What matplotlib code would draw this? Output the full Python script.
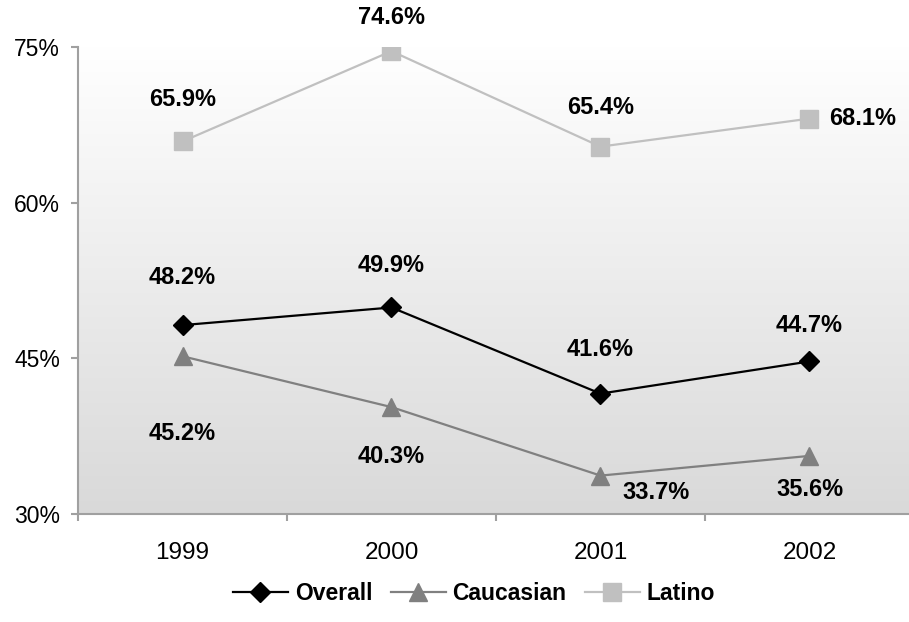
import matplotlib
matplotlib.use("Agg")
import matplotlib.pyplot as plt
import numpy as np
from matplotlib.colors import LinearSegmentedColormap

# ==============================
# Data
# ==============================
years = ["1999", "2000", "2001", "2002"]
overall = [48.2, 49.9, 41.6, 44.7]
caucasian = [45.2, 40.3, 33.7, 35.6]
latino = [65.9, 74.6, 65.4, 68.1]
y_ticks = [30, 45, 60, 75]

# label offsets in pixels (dx, dy)
overall_off = [(0, 48), (0, 42), (0, 44), (0, 36)]
caucasian_off = [(0, -77), (0, -49), (56, -17), (0, -34)]
latino_off = [(0, 42), (0, 34), (0, 39), (20, 0)]

plt.rcParams["font.family"] = ["Liberation Sans", "DejaVu Sans"]

fig = plt.figure(figsize=(9.09, 6.22), dpi=100)
ax = fig.add_axes([78 / 909, 1 - 514 / 622, 836 / 909, 467 / 622])

x = np.arange(len(years)) + 0.5

# gradient background (white on top, gray at the bottom)
cmap = LinearSegmentedColormap.from_list("bg", ["#ffffff", "#d9d9d9"])
grad = np.linspace(0, 1, 256).reshape(-1, 1)
ax.imshow(grad, cmap=cmap, aspect="auto", extent=[0, 4, 30, 75],
          zorder=0, interpolation="bicubic")

ax.plot(x, overall, color="black", lw=1.6, marker="D", ms=10, label="Overall", zorder=3)
ax.plot(x, caucasian, color="#808080", lw=1.6, marker="^", ms=13.5, label="Caucasian", zorder=3)
ax.plot(x, latino, color="#c0c0c0", lw=1.6, marker="s", ms=13.5, label="Latino", zorder=3)

def put_labels(vals, offs):
    for xi, v, (dx, dy) in zip(x, vals, offs):
        ax.annotate(f"{v:.1f}%", (xi, v), xytext=(dx, dy), textcoords="offset pixels",
                    ha="left" if dx == 20 else "center", va="center",
                    fontsize=17, fontweight="bold")

put_labels(overall, overall_off)
put_labels(caucasian, caucasian_off)
put_labels(latino, latino_off)

ax.set_xlim(0, 4)
ax.set_ylim(30, 75)
ax.set_yticks(y_ticks)
ax.set_yticklabels([f"{t}%" for t in y_ticks], fontsize=16.5)
ax.set_xticks([0, 1, 2, 3, 4])
ax.set_xticklabels([])
ax.set_xticks(x, minor=True)
ax.set_xticklabels(years, minor=True, fontsize=17.5)
ax.tick_params(axis="x", which="minor", length=0, pad=20)
ax.tick_params(axis="both", which="major", length=5, width=1.5, color="#a0a0a0")
ax.tick_params(axis="y", pad=8)

for s in ["top", "right"]:
    ax.spines[s].set_visible(False)
for s in ["left", "bottom"]:
    ax.spines[s].set_color("#a0a0a0")
    ax.spines[s].set_linewidth(1.5)

fig.legend(loc="center", bbox_to_anchor=(474 / 909, 1 - 594 / 622), ncol=3,
           frameon=False, prop={"weight": "bold", "size": 16.5},
           handlelength=2.4, columnspacing=0.8, handletextpad=0.3)

fig.savefig("out.png", dpi=100)
